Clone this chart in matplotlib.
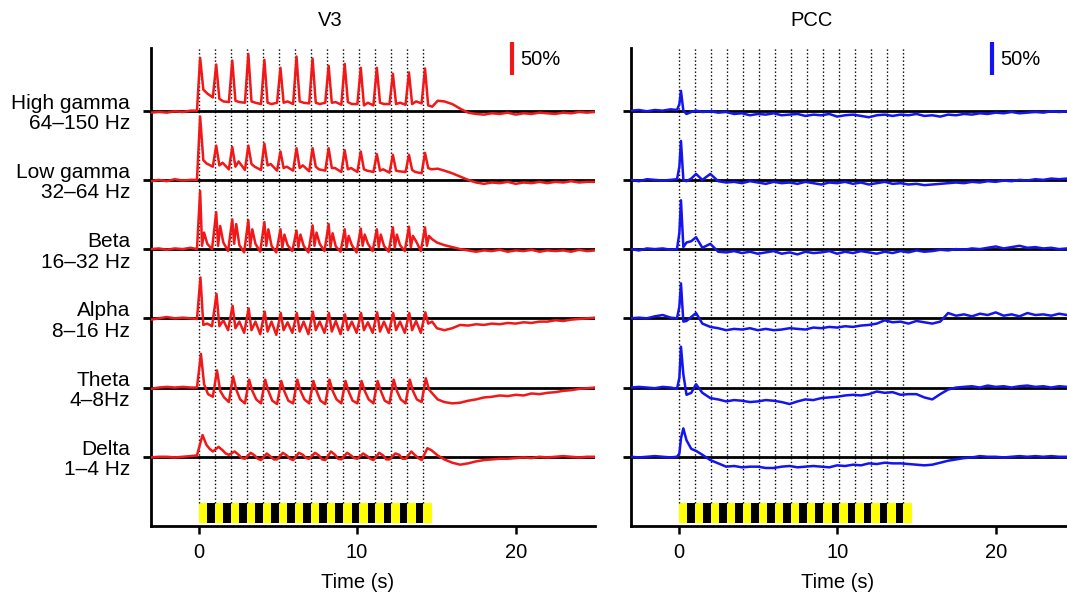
import numpy as np
import matplotlib.pyplot as plt

plt.rcParams['font.family'] = ['Liberation Sans', 'DejaVu Sans']
plt.rcParams['font.size'] = 14.5

band_labels = ["High gamma\n64–150 Hz", "Low gamma\n32–64 Hz", "Beta\n16–32 Hz",
               "Alpha\n8–16 Hz", "Theta\n4–8Hz", "Delta\n1–4 Hz"]
baselines = [630, 525, 420, 315, 210, 105]   # % units, stacked traces

period = 1.013
n_stim = 15
onsets = [k * period for k in range(n_stim)]
flash_dur = 0.53

pre_t = [-3, -2.5, -2, -1.5, -1, -0.5, -0.1]
post_t = list(np.arange(15.5, 25.01, 0.5))

# ---- V3: per-stimulus values (peak, after, mid, end) ----
hg_dt = [0.1, 0.3, 0.55, 0.9]
hg_pre = [-3, -2, -3, -1, -2, 0, 0]
hg_peak = [80, 70, 76, 86, 77, 65, 82, 79, 68, 71, 65, 65, 56, 58, 64]
hg_after = [32, 18, 15, 14, 12, 12, 14, 12, 12, 13, 8, 12, 10, 10, 8]
hg_mid = [26, 14, 13, 12, 10, 14, 12, 10, 13, 10, 12, 10, 12, 14, 6]
hg_end = [20, 13, 12, 10, 12, 10, 11, 12, 9, 10, 8, 10, 9, 11, 15]
hg_post = [14, 10, 3, -3, -5, -6, -4, -5, -3, -6, -4, -5, -3, -4, -5, -3, -4, -2, -3, -2]

lg_dt = [0.1, 0.3, 0.5, 0.9]
lg_pre = [-2, 0, -2, 1, -1, 0, 0]
lg_peak = [96, 52, 50, 52, 55, 43, 48, 48, 48, 45, 43, 39, 38, 38, 41]
lg_after = [30, 22, 20, 24, 22, 18, 18, 20, 18, 16, 16, 14, 14, 15, 18]
lg_mid = [25, 26, 28, 20, 24, 20, 22, 16, 18, 18, 14, 16, 13, 12, 16]
lg_end = [20, 16, 15, 15, 14, 14, 13, 14, 12, 12, 12, 11, 12, 10, 17]
lg_post = [14, 10, 5, 0, -4, -6, -4, -5, -3, -6, -4, -5, -3, -5, -3, -4, -2, -4, -3, -3]

be_dt = [0.1, 0.22, 0.35, 0.55, 0.85]
be_pre = [0, 1, -1, 1, 0, 2, 0]
be_peak = [88, 56, 45, 44, 41, 30, 28, 36, 38, 30, 31, 30, 33, 34, 33]
be_after = [5, 5, 8, 3, 5, 2, 3, 5, 3, 2, 5, 3, 2, 3, 5]
be_second = [25, 35, 38, 30, 30, 22, 22, 25, 24, 20, 22, 22, 22, 20, 20]
be_mid = [8, 10, 6, 8, 5, 6, 5, 8, 4, 6, 8, 5, 6, 12, 15]
be_end = [0, -3, -5, -4, -5, -3, -5, -3, -4, -5, -3, -4, -3, -3, 10]
be_post = [6, 3, 0, -2, -4, -2, -3, -1, -4, -2, -3, -1, -4, -2, -3, -2, -4, -1, -3, -2]

al_dt = [0.12, 0.3, 0.55, 0.85]
al_pre = [-2, 0, 2, 0, 1, 0, -1]
al_peak = [62, 37, 19, 15, 10, 8, 8, 10, 8, 6, 8, 9, 8, 8, 9]
al_after = [-10, -12, -15, -18, -20, -18, -20, -18, -20, -18, -18, -20, -18, -18, -8]
al_mid = [-8, -3, -5, -5, -5, -6, -5, -5, -4, -5, -6, -5, -5, -4, -5]
al_end = [-12, -18, -22, -24, -25, -22, -24, -22, -24, -22, -22, -22, -22, -22, -15]
al_post = [-18, -15, -10, -11, -9, -10, -8, -9, -7, -8, -6, -7, -5, -5, -3, -4, -2, -1, 0, 1]

th_dt = [0.15, 0.35, 0.6, 0.9]
th_pre = [-2, 0, 1, 0, 1, 0, 0]
th_peak = [51, 26, 17, 12, 12, 10, 12, 10, 12, 10, 10, 10, 12, 12, 14]
th_after = [5, -5, -3, -5, -5, -6, -5, -5, -5, -6, -5, -5, -5, -5, -3]
th_mid = [-10, -15, -18, -18, -20, -20, -18, -20, -18, -20, -18, -20, -18, -18, -10]
th_end = [-14, -22, -24, -24, -25, -24, -24, -25, -24, -24, -24, -24, -24, -22, -18]
th_post = [-22, -24, -23, -20, -18, -15, -14, -12, -13, -11, -12, -9, -10, -8, -7, -5, -4, -2, -1, 0]

de_dt = [0.25, 0.5, 0.7, 0.9]
de_pre = [-1, 0, 0, -1, 0, 1, 2]
de_peak = [33, 15, 8, 6, 5, 6, 6, 6, 8, 6, 5, 6, 5, 8, 13]
de_after = [18, 10, 3, 2, 0, 2, 3, 2, 3, 2, 1, 2, 3, 2, 10]
de_mid = [12, 5, -2, -3, -4, -3, -2, -4, -3, -2, -3, -4, -3, -2, 6]
de_end = [8, 3, -3, -5, -4, -5, -3, -5, -4, -3, -5, -4, -3, -5, 2]
de_post = [-4, -9, -12, -10, -7, -5, -4, -3, -3, -2, -1, -2, 0, -1, 0, 1, 0, -1, 0, 0]

# ---- PCC: keypoints on a shared time grid ----
pcc_t = ([-3, -2.5, -2, -1.5, -1, -0.5, -0.1,
          0.05, 0.15, 0.3, 0.5, 0.8, 1.1, 1.5, 2, 2.5, 3]
         + list(np.arange(3.5, 25.01, 0.5)))
pcc_hg = [0, 1, -1, 1, 0, 2, 1, 10, 30, 0, -5, -2, 0, -2, -1, -3, -2,
          -5, -4, -7, -5, -6, -4, -7, -6, -5, -8, -6, -7, -5, -9, -7, -6, -8, -10, -7, -6,
          -8, -6, -7, -5, -8, -7, -9, -6, -7, -5, -6, -4, -5, -3, -4, -2, -4, -3, -2, -3,
          -1, -2, -1, 0]
pcc_lg = [0, -2, 1, 0, -1, 0, 1, 20, 59, 0, -2, 2, 9, 0, 9, -2, -4,
          -3, -5, -2, -4, -6, -3, -5, -4, -6, -3, -5, -7, -4, -5, -3, -6, -4, -7, -5, -3,
          -6, -5, -7, -6, -8, -7, -6, -5, -4, -5, -3, -4, -2, -3, -1, -2, 0, -1, 1, 0,
          2, 1, 2, 2]
pcc_be = [0, -2, 1, 0, 1, -1, 0, 25, 74, 3, 10, 12, 18, 2, 8, -4, -5,
          -3, -6, -4, -7, -5, -3, -7, -5, -8, -4, -6, -5, -3, -7, -4, -6, -3, -5, -7, -4,
          -6, -3, -5, -2, -4, -3, -1, -2, 0, -1, 1, 0, 2, 4, 1, 3, 5, 2, 3, 1,
          2, 0, 1, 0]
pcc_al = [0, 1, 0, 3, 5, 1, 0, 18, 53, -5, -4, 2, 8, -8, -13, -15, -18,
          -16, -17, -15, -18, -16, -18, -17, -15, -16, -17, -14, -15, -13, -14, -12, -13, -11, -10, -8, -3,
          -6, -5, -8, -4, -6, -8, -5, 8, 4, 6, 3, 7, 5, 9, 4, 6, 3, 8, 5, 6,
          4, 7, 5, 4]
pcc_th = [0, 1, 0, -1, 1, 0, -2, 15, 62, 20, -11, -8, 5, -8, -16, -18, -21,
          -19, -20, -22, -21, -19, -20, -22, -25, -21, -18, -19, -16, -15, -14, -12, -11, -12, -10, -6, -8,
          -7, -11, -10, -10, -15, -18, -10, -3, 0, 1, 2, 0, 3, 1, 2, 0, 2, 3, 1, 2,
          0, 2, 1, 2]
pcc_de = [0, -1, 0, 1, 0, -1, 0, 5, 28, 43, 25, 12, 9, 3, -5, -10, -15,
          -14, -16, -15, -15, -17, -17, -15, -14, -16, -15, -14, -15, -16, -13, -14, -12, -13, -10, -11, -9,
          -10, -10, -11, -12, -13, -12, -9, -6, -4, -2, -1, 1, 0, 0, -1, 0, 1, 0, 1, 0,
          1, 0, 0, 1]


def v3_trace(pre, dts, cyc, post):
    t = list(pre_t)
    v = list(pre)
    for k, on in enumerate(onsets):
        for dt, vals in zip(dts, cyc):
            t.append(on + dt)
            v.append(vals[k])
    return np.array(t + post_t), np.array(v + post)


v3_traces = [
    v3_trace(hg_pre, hg_dt, [hg_peak, hg_after, hg_mid, hg_end], hg_post),
    v3_trace(lg_pre, lg_dt, [lg_peak, lg_after, lg_mid, lg_end], lg_post),
    v3_trace(be_pre, be_dt, [be_peak, be_after, be_second, be_mid, be_end], be_post),
    v3_trace(al_pre, al_dt, [al_peak, al_after, al_mid, al_end], al_post),
    v3_trace(th_pre, th_dt, [th_peak, th_after, th_mid, th_end], th_post),
    v3_trace(de_pre, de_dt, [de_peak, de_after, de_mid, de_end], de_post),
]
pcc_traces = [(np.array(pcc_t), np.array(v)) for v in
              [pcc_hg, pcc_lg, pcc_be, pcc_al, pcc_th, pcc_de]]

fig = plt.figure(figsize=(10.67, 5.98), dpi=100)
ax1 = fig.add_axes([0.1415, 0.1204, 0.4161, 0.7993])
ax2 = fig.add_axes([0.5914, 0.1204, 0.4161, 0.7993])

panels = [(ax1, v3_traces, '#f01818', 'V3', 8.3),
          (ax2, pcc_traces, '#1414f0', 'PCC', 8.4)]

for ax, traces, col, title, title_x in panels:
    ax.set_xlim(-3, 25)
    ax.set_ylim(0, 725)
    # stimulus markers
    ax.vlines(onsets, 35, 725, colors='k', linestyles=':', lw=1)
    bar_end = onsets[-1] + flash_dur
    ax.broken_barh([(0, bar_end)], (4.5, 30.5), facecolors='black')
    ax.broken_barh([(on, flash_dur) for on in onsets], (4.5, 30.5), facecolors='#ffff00')
    # baselines and traces
    for b, (t, v) in zip(baselines, traces):
        ax.axhline(b, color='black', lw=2, zorder=2)
        ax.plot(t, b + v, color=col, lw=1.8, zorder=3)
    # scale bar
    ax.plot([19.75, 19.75], [684, 734], color=col, lw=3, clip_on=False,
            solid_capstyle='butt')
    ax.text(20.3, 707, '50%', ha='left', va='center', fontsize=14.5, clip_on=False)
    ax.text(title_x, 1.058, title, transform=ax.get_xaxis_transform(),
            ha='center', va='center', fontsize=14.5)
    ax.text(10, -0.119, 'Time (s)', transform=ax.get_xaxis_transform(),
            ha='center', va='center', fontsize=14.5)

    for side in ['top', 'right']:
        ax.spines[side].set_visible(False)
    for side in ['left', 'bottom']:
        ax.spines[side].set_linewidth(2)
    ax.set_xticks([0, 10, 20])
    ax.tick_params(axis='x', direction='out', length=6, width=1.8, pad=6, labelsize=14.5)
    ax.set_yticks(baselines)
    ax.tick_params(axis='y', direction='out', length=6, width=2, pad=9)

ax1.set_yticklabels(band_labels, ha='right', linespacing=1.1, fontsize=15)
ax2.set_yticklabels([])

plt.savefig('out.png', dpi=100)
